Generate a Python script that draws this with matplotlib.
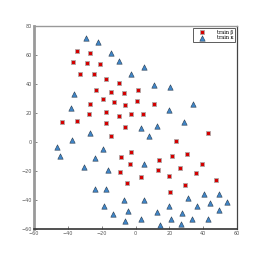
import matplotlib
matplotlib.use("Agg")
import matplotlib.pyplot as plt

beta_x = [-34.4, -26.7, -37.0, -28.8, -20.9, -32.6, -24.5, -17.6, -9.9, -23.1,
          -14.4, -6.9, -19.3, -12.6, -26.9, -6.1, -17.6, -27.7, -9.9, -2.7,
          -43.3, -34.8, -17.2, -6.1, 1.6, 0.6, 10.7, 4.7, 42.7, -14.4,
          -8.7, -2.7, -3.0, -9.3, -4.9, 23.7, 13.9, 21.4, 30.7, 13.5,
          26.1, 39.6, 3.2, 19.8, 35.6, 47.7, 29.3, 20.4]
beta_y = [62.5, 61.4, 55.2, 54.5, 53.6, 47.1, 46.9, 43.4, 40.5, 35.6,
          34.7, 33.6, 29.4, 27.6, 26.4, 25.3, 20.7, 19.3, 18.2, 19.1,
          13.6, 14.3, 13.3, 10.1, 35.6, 28.0, 26.2, 19.1, 6.5, 3.9,
          -10.1, -6.8, -15.0, -20.7, -28.1, 0.5, -12.4, -9.4, -8.0, -19.1,
          -17.7, -15.2, -24.1, -23.7, -21.4, -26.0, -29.4, -34.7]

kappa_x = [-29.3, -22.0, -14.6, -9.5, -2.6, 5.3, 10.7, 20.4, 33.8, 19.6,
           28.5, 3.2, 12.9, -36.4, -38.0, -26.9, -46.3, -37.4, -44.5, -19.3,
           -23.9, -30.3, -16.4, -23.7, -17.4, -6.9, -18.8, -4.2, -13.4, -6.3,
           7.7, 5.2, 40.4, 49.5, 5.0, 31.1, 44.3, 54.2, 20.0, 36.6,
           12.9, 27.7, 49.3, 3.4, 20.8, 33.6, 42.7, 14.2, 26.9]
kappa_y = [71.9, 68.8, 61.6, 55.7, 46.9, 51.9, 39.1, 38.2, 26.4, 21.8,
           13.8, 9.7, 11.3, 33.3, 23.2, 6.0, -3.2, 1.4, -9.4, -5.0,
           -11.0, -17.5, -19.1, -32.4, -32.6, -40.2, -44.4, -47.8, -49.9, -54.7,
           4.1, -15.4, -35.6, -35.6, -40.0, -38.9, -41.8, -41.4, -43.9, -43.9,
           -48.1, -48.8, -47.1, -52.9, -53.1, -53.1, -52.9, -57.2, -56.8]

labels = ["train \u03b2", "train \u03ba"]
x_ticks = [-60, -40, -20, 0, 20, 40, 60]
y_ticks = [-60, -40, -20, 0, 20, 40, 60, 80]

fig = plt.figure(figsize=(2.62, 2.65), dpi=100)
ax = fig.add_axes([34 / 262, 36 / 265, 203 / 262, 203 / 265])

ax.scatter(beta_x, beta_y, marker="s", s=10, c="#d40000", edgecolors="#b0a8a8",
           linewidths=0.6, label=labels[0], zorder=3)
ax.scatter(kappa_x, kappa_y, marker="^", s=15, c="#3f86c8", edgecolors="#2a3c50",
           linewidths=0.4, label=labels[1], zorder=3)

ax.set_xlim(-60, 60)
ax.set_ylim(-60, 80)
ax.set_xticks(x_ticks)
ax.set_yticks(y_ticks)
ax.tick_params(direction="in", length=2, width=0.5, labelsize=3.5,
               colors="#555555", pad=1.5)

ax.spines["left"].set_color("#999999")
ax.spines["left"].set_linewidth(2.0)
ax.spines["bottom"].set_color("#333333")
ax.spines["bottom"].set_linewidth(1.2)
ax.spines["top"].set_color("#999999")
ax.spines["top"].set_linewidth(1.0)
ax.spines["right"].set_color("#444444")
ax.spines["right"].set_linewidth(0.9)

leg = ax.legend(loc="upper right", prop={"family": "DejaVu Serif", "size": 3.5},
                frameon=True, fancybox=False,
                borderpad=0.4, handletextpad=1.6, labelspacing=0.15,
                borderaxespad=0.35, handlelength=3.0)
leg.get_frame().set_edgecolor("#333333")
leg.get_frame().set_linewidth(0.7)

fig.savefig("out.png", dpi=100)
